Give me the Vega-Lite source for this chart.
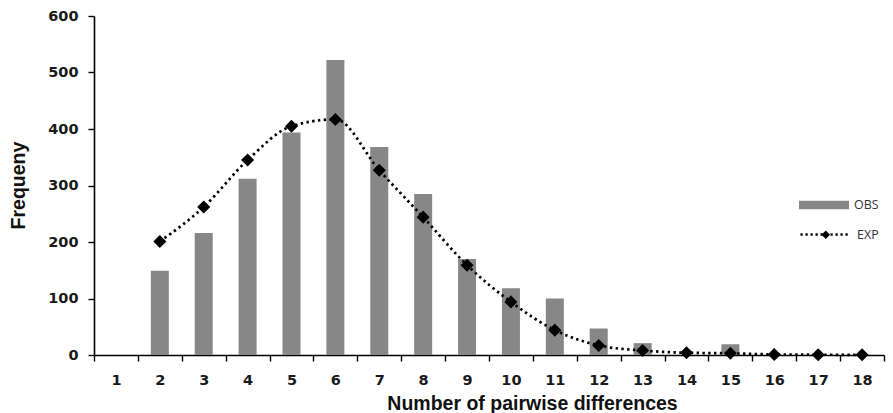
{
  "$schema": "https://vega.github.io/schema/vega-lite/v6.json",
  "width": 790,
  "height": 339,
  "autosize": {"type": "none"},
  "padding": {"left": 94, "top": 16, "right": 9, "bottom": 58},
  "background": "white",
  "config": {
    "view": {"stroke": null},
    "axis": {"grid": false, "domainColor": "#000", "tickColor": "#000", "domainWidth": 1.6, "tickWidth": 1.4, "tickSize": 6,
      "labelFont": "DejaVu Sans", "labelFontWeight": "bold", "labelFontSize": 14.5, "labelColor": "#1a1a1a",
      "titleFont": "Liberation Sans", "titleFontWeight": "bold", "titleFontSize": 19.5, "titleColor": "#111"},
    "legend": {"labelFont": "Open Sans", "labelFontSize": 12.5, "labelColor": "#333", "padding": 0, "orient": "none"}
  },
  "data": {"values": [
    {"n": 2, "OBS": 149, "EXP": 201},
    {"n": 3, "OBS": 216, "EXP": 262},
    {"n": 4, "OBS": 312, "EXP": 345},
    {"n": 5, "OBS": 394, "EXP": 405},
    {"n": 6, "OBS": 522, "EXP": 417},
    {"n": 7, "OBS": 368, "EXP": 327},
    {"n": 8, "OBS": 285, "EXP": 244},
    {"n": 9, "OBS": 170, "EXP": 159},
    {"n": 10, "OBS": 118, "EXP": 94},
    {"n": 11, "OBS": 100, "EXP": 44},
    {"n": 12, "OBS": 47, "EXP": 17},
    {"n": 13, "OBS": 21, "EXP": 8},
    {"n": 14, "OBS": 0, "EXP": 4},
    {"n": 15, "OBS": 19, "EXP": 3},
    {"n": 16, "OBS": 0, "EXP": 1},
    {"n": 17, "OBS": 0, "EXP": 0.5},
    {"n": 18, "OBS": 0, "EXP": 0.3}
  ]},
  "layer": [
    {
      "transform": [{"fold": ["OBS"], "as": ["obsSeries", "obsValue"]}],
      "mark": {"type": "bar", "width": {"band": 0.41}, "color": "#878787"},
      "encoding": {
        "x": {"field": "n", "type": "ordinal",
          "scale": {"domain": [1,2,3,4,5,6,7,8,9,10,11,12,13,14,15,16,17,18], "paddingInner": 0, "paddingOuter": 0},
          "axis": {"labelAngle": 0, "tickBand": "extent", "labelPadding": 12, "title": "Number of pairwise differences",
            "titleX": 438, "titleY": 48, "titleAlign": "center", "titleBaseline": "middle"}},
        "y": {"field": "obsValue", "type": "quantitative",
          "scale": {"domain": [0, 600], "nice": false},
          "axis": {"values": [0,100,200,300,400,500,600], "title": "Frequeny", "labelPadding": 10,
            "titleX": -76, "titleY": 169, "titleAlign": "center", "titleBaseline": "middle", "titleAngle": -90}},
        "fill": {"field": "obsSeries", "type": "nominal", "scale": {"range": ["#878787"]},
          "legend": {"title": null, "symbolType": "M-1,-0.17H1V0.17H-1Z", "symbolSize": 2500, "symbolStrokeWidth": 0,
            "legendX": 705, "legendY": 164, "labelOffset": 5}}
      }
    },
    {
      "transform": [{"fold": ["EXP"], "as": ["lineSeries", "lineValue"]}],
      "mark": {"type": "line", "interpolate": "monotone", "strokeDash": [2.4, 3.4], "strokeWidth": 2.7, "color": "black"},
      "encoding": {
        "x": {"field": "n", "type": "ordinal"},
        "y": {"field": "lineValue", "type": "quantitative"},
        "stroke": {"field": "lineSeries", "type": "nominal", "scale": {"range": ["black"]},
          "legend": {"title": null, "symbolType": "M-1,0H1", "symbolSize": 2304, "symbolStrokeWidth": 2.4,
            "symbolDash": [2.2, 2.8], "legendX": 705, "legendY": 193, "labelOffset": 7}}
      }
    },
    {
      "transform": [{"fold": ["EXP"], "as": ["ptSeries", "ptValue"]}],
      "mark": {"type": "point", "filled": true, "color": "black", "opacity": 1, "size": 170},
      "encoding": {
        "x": {"field": "n", "type": "ordinal"},
        "y": {"field": "ptValue", "type": "quantitative"},
        "shape": {"field": "ptSeries", "type": "nominal", "scale": {"range": ["diamond"]},
          "legend": {"title": null, "symbolSize": 72, "symbolFillColor": "black", "symbolStrokeColor": "black",
            "labelColor": "transparent", "legendX": 725.5, "legendY": 212.5}}
      }
    }
  ]
}
